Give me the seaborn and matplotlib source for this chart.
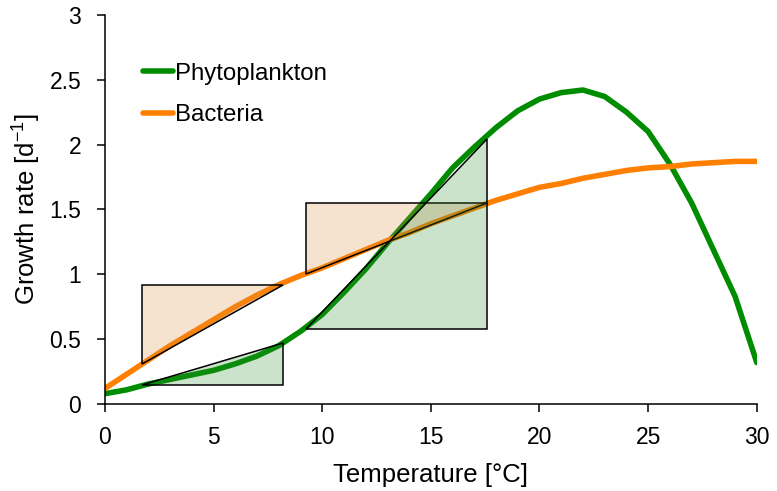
import matplotlib
matplotlib.use("Agg")
import matplotlib.pyplot as plt
import seaborn as sns
import pandas as pd

# ---- data ----
temperature = list(range(0, 31))
phytoplankton = [0.08, 0.11, 0.155, 0.19, 0.225, 0.26, 0.31, 0.37, 0.45, 0.56,
                 0.69, 0.86, 1.04, 1.24, 1.43, 1.62, 1.82, 1.98, 2.13, 2.26,
                 2.35, 2.40, 2.42, 2.37, 2.25, 2.10, 1.85, 1.55, 1.19, 0.83, 0.32]
bacteria = [0.12, 0.23, 0.34, 0.45, 0.55, 0.65, 0.75, 0.84, 0.92, 0.99,
            1.05, 1.12, 1.19, 1.26, 1.32, 1.39, 1.45, 1.51, 1.57, 1.62,
            1.67, 1.70, 1.74, 1.77, 1.80, 1.82, 1.83, 1.85, 1.86, 1.87, 1.87]
series_names = ["Phytoplankton", "Bacteria"]

# slope triangles (vertices)
bact_tri1_x = [1.72, 1.72, 8.2]
bact_tri1_y = [0.31, 0.92, 0.92]
phyto_tri1_x = [1.72, 8.2, 8.2]
phyto_tri1_y = [0.145, 0.145, 0.47]
bact_tri2_x = [9.24, 9.24, 17.57]
bact_tri2_y = [1.005, 1.548, 1.548]
phyto_tri2_x = [9.24, 17.57, 17.57]
phyto_tri2_y = [0.58, 0.58, 2.04]

x_ticks = [0, 5, 10, 15, 20, 25, 30]
y_ticks = [0, 0.5, 1, 1.5, 2, 2.5, 3]
y_ticklabels = ["0", "0.5", "1", "1.5", "2", "2.5", "3"]

# ---- styling ----
sns.set_style("ticks")
plt.rcParams["font.family"] = ["Liberation Sans", "DejaVu Sans"]
plt.rcParams["text.color"] = "black"
plt.rcParams["axes.labelcolor"] = "black"

GREEN = "#008C00"
ORANGE = "#FF8000"
TAN_FILL = (0.85, 0.55, 0.25, 0.25)
GREEN_FILL = (0.2, 0.55, 0.2, 0.25)

df = pd.DataFrame({
    "Temperature": temperature * 2,
    "Rate": phytoplankton + bacteria,
    "Group": [series_names[0]] * len(temperature) + [series_names[1]] * len(temperature),
})

fig = plt.figure(figsize=(7.77, 4.91), dpi=100)
ax = fig.add_axes([0.135, 0.177, 0.839, 0.793])

sns.lineplot(data=df, x="Temperature", y="Rate", hue="Group",
             palette={series_names[0]: GREEN, series_names[1]: ORANGE},
             linewidth=4.0, ax=ax, legend=True, zorder=2)

for tx, ty, fc in [(bact_tri1_x, bact_tri1_y, TAN_FILL),
                   (phyto_tri1_x, phyto_tri1_y, GREEN_FILL),
                   (bact_tri2_x, bact_tri2_y, TAN_FILL),
                   (phyto_tri2_x, phyto_tri2_y, GREEN_FILL)]:
    ax.fill(tx, ty, facecolor=fc, edgecolor="black", linewidth=1.1, zorder=3)

ax.set_xlim(0, 30)
ax.set_ylim(0, 3)
ax.set_xticks(x_ticks)
ax.set_yticks(y_ticks)
ax.set_yticklabels(y_ticklabels)
ax.tick_params(axis="both", direction="out", length=6, width=1.1, color="black",
               labelsize=16.5, labelcolor="black")
ax.tick_params(axis="y", pad=11)
ax.tick_params(axis="x", pad=9.5)
sns.despine(ax=ax)
for s in ["left", "bottom"]:
    ax.spines[s].set_color("black")
    ax.spines[s].set_linewidth(1.1)

ax.set_xlabel("Temperature [°C]", fontsize=18.5, labelpad=10, color="black")
ax.set_ylabel("Growth rate [d$^{\\mathregular{-1}}$]", fontsize=18.5, labelpad=5,
              color="black")

handles, labels = ax.get_legend_handles_labels()
leg = ax.legend(handles, labels, loc="upper left", bbox_to_anchor=(0.058, 0.877),
                frameon=False, fontsize=17.3, handlelength=1.25, handletextpad=0.1,
                labelspacing=0.82, borderpad=0, borderaxespad=0, labelcolor="black")
for line in leg.get_lines():
    line.set_linewidth(4.0)
    line.set_solid_capstyle("round")

fig.savefig("out.png", dpi=100)
